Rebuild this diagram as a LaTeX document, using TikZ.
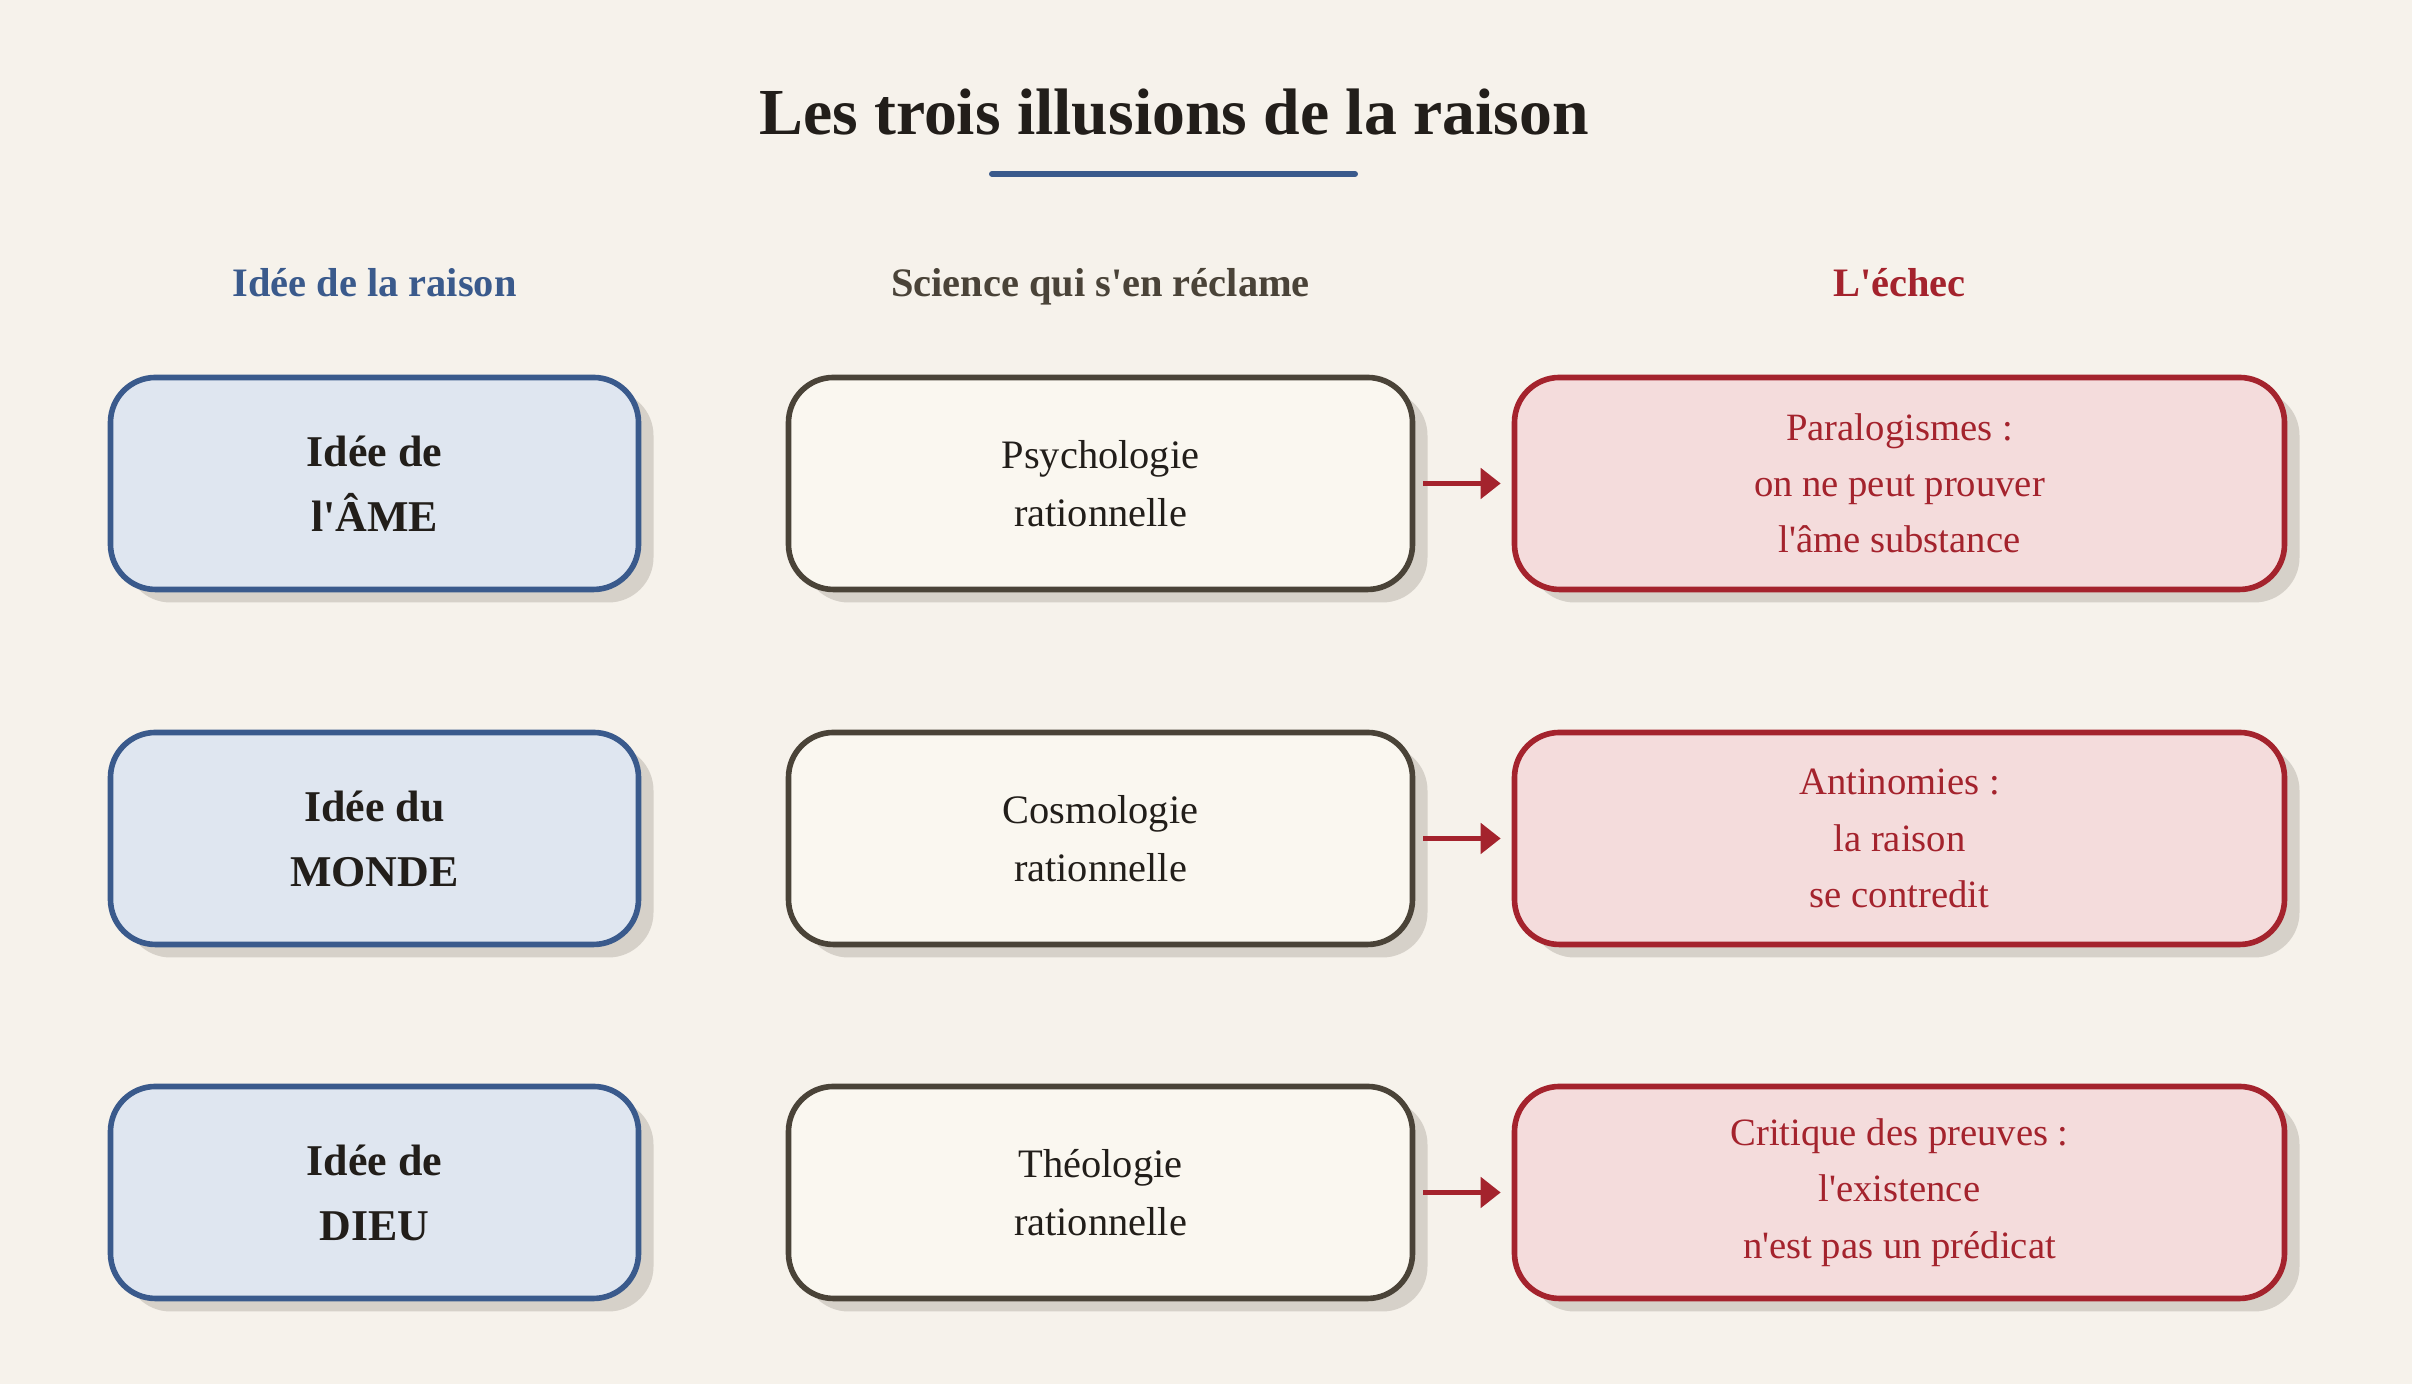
\documentclass[tikz,border=0pt]{standalone}
\usepackage{fontspec}
\setmainfont{Liberation Serif}[Ligatures=TeXOff]
\usetikzlibrary{shadows,arrows.meta}

\definecolor{paper}{HTML}{F6F2EB}
\definecolor{ink}{HTML}{221E1A}
\definecolor{idblue}{HTML}{3A5A8C}
\definecolor{idfill}{HTML}{DFE6F0}
\definecolor{scigray}{HTML}{4A4338}
\definecolor{scifill}{HTML}{FAF7F0}
\definecolor{failred}{HTML}{A4232D}
\definecolor{failfill}{HTML}{F4DCDC}
\definecolor{shade}{HTML}{D6D1C9}

\tikzset{
  card/.style={rounded corners=0.45cm, line width=1.6pt, align=center,
    drop shadow={shadow xshift=0.15cm, shadow yshift=-0.13cm, fill=shade, opacity=1},
    minimum height=2.12cm, inner sep=0pt},
  ideabox/.style={card, draw=idblue, fill=idfill, text=ink, minimum width=5.28cm,
    font=\fontsize{12.5}{18.5}\selectfont\bfseries},
  scibox/.style={card, draw=scigray, fill=scifill, text=ink, minimum width=6.24cm,
    font=\fontsize{11.5}{16.5}\selectfont},
  failbox/.style={card, draw=failred, fill=failfill, text=failred, minimum width=7.70cm,
    font=\fontsize{11}{16}\selectfont},
  colhead/.style={font=\fontsize{11.5}{14}\selectfont\bfseries, anchor=base},
  fails/.style={draw=failred, line width=1.6pt, -{Triangle[length=2mm, width=3mm]},
    shorten <=0.8mm, shorten >=1.1mm}
}

\begin{document}
\begin{tikzpicture}
  \fill[paper] (0,0) rectangle (24.12,13.84);

  % Title and rule under it
  \node[text=ink, font=\fontsize{18.7}{22}\selectfont\bfseries] (title) at (11.74, 12.72) {Les trois illusions de la raison};
  \coordinate (ruleL) at (9.92, 12.10);
  \coordinate (ruleR) at (13.55, 12.10);
  \draw[idblue, line width=1.7pt, line cap=round] (ruleL) -- (ruleR);

  % Column headers
  \node[colhead, text=idblue] (hidea) at (3.745, 10.87) {Idée de la raison};
  \node[colhead, text=scigray] (hsci) at (11.005, 10.87) {Science qui s'en réclame};
  \node[colhead, text=failred] (hfail) at (18.995, 10.87) {L'échec};

  % Row 1 (the soul)
  \node[ideabox] (idea1) at (3.745, 9.005) {Idée de\\l'ÂME};
  \node[scibox] (sci1) at (11.005, 9.005) {Psychologie\\rationnelle};
  \node[failbox] (fail1) at (18.995, 9.005) {Paralogismes :\\on ne peut prouver\\l'âme substance};
  % Row 2 (the world)
  \node[ideabox] (idea2) at (3.745, 5.455) {Idée du\\MONDE};
  \node[scibox] (sci2) at (11.005, 5.455) {Cosmologie\\rationnelle};
  \node[failbox] (fail2) at (18.995, 5.455) {Antinomies :\\la raison\\se contredit};
  % Row 3 (God)
  \node[ideabox] (idea3) at (3.745, 1.915) {Idée de\\DIEU};
  \node[scibox] (sci3) at (11.005, 1.915) {Théologie\\rationnelle};
  \node[failbox] (fail3) at (18.995, 1.915) {Critique des preuves :\\l'existence\\n'est pas un prédicat};

  \foreach \i in {1,2,3}
    \draw[fails] (sci\i.east) -- (fail\i.west);
\end{tikzpicture}
\end{document}
